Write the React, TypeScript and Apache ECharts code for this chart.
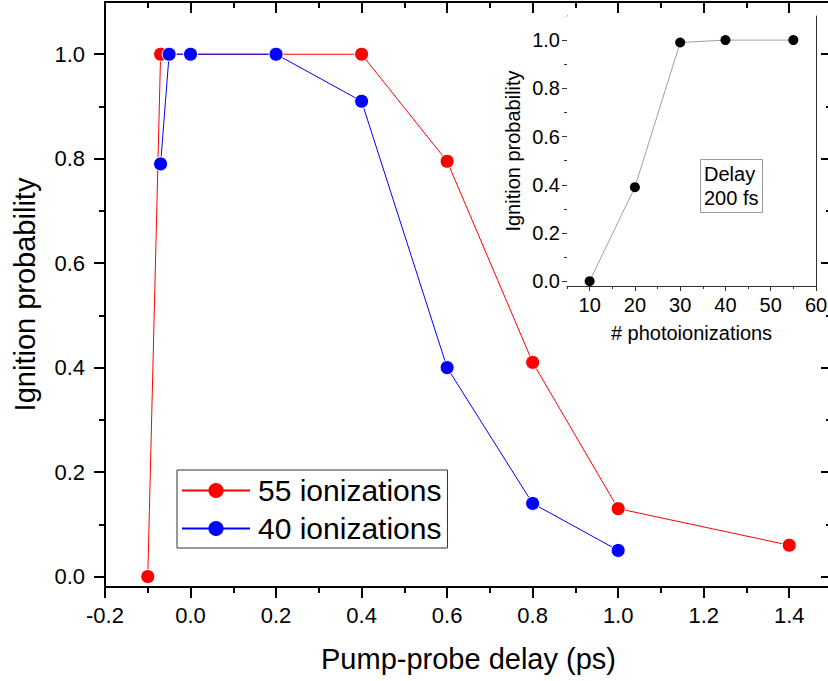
import React, { useEffect, useRef } from "react";
import * as echarts from "echarts";

const FONT = '"Liberation Sans", Arial, sans-serif';

// Main plot data
const series55Name = "55 ionizations";
const series55X = [-0.1, -0.07, 0.4, 0.6, 0.8, 1.0, 1.4];
const series55Y = [0.0, 1.0, 1.0, 0.795, 0.41, 0.13, 0.06];
const series40Name = "40 ionizations";
const series40X = [-0.07, -0.05, 0.0, 0.2, 0.4, 0.6, 0.8, 1.0];
const series40Y = [0.79, 1.0, 1.0, 1.0, 0.91, 0.4, 0.14, 0.05];

// Inset data
const insetX = [10, 20, 30, 40, 55];
const insetY = [0.0, 0.39, 0.99, 1.0, 1.0];

// Ticks
const mainXMajor = [-0.2, 0.0, 0.2, 0.4, 0.6, 0.8, 1.0, 1.2, 1.4];
const mainXMinor = [-0.1, 0.1, 0.3, 0.5, 0.7, 0.9, 1.1, 1.3, 1.5];
const mainYMajor = [0.0, 0.2, 0.4, 0.6, 0.8, 1.0];
const mainYMinor = [0.1, 0.3, 0.5, 0.7, 0.9];
const insetXMajor = [10, 20, 30, 40, 50, 60];
const insetXMinor = [5, 15, 25, 35, 45, 55];
const insetYMajor = [0.0, 0.2, 0.4, 0.6, 0.8, 1.0];
const insetYMinor = [0.1, 0.3, 0.5, 0.7, 0.9];

const CHART_W = 840;
const CHART_H = 681;

type AxisCfg = {
  dim: "x" | "y";
  grid: number;
  min: number;
  max: number;
  majors: number[];
  minors: number[];
  majorLen: number;
  minorLen: number;
  lineWidth: number;
  color: string;
  labelSize: number;
  labelMargin: number;
  labelFmt: (v: number) => string;
  name: string;
  nameGap: number;
  nameSize: number;
};

function buildAxes(c: AxisCfg) {
  const pos1 = c.dim === "x" ? "bottom" : "left";
  const pos2 = c.dim === "x" ? "top" : "right";
  const base = (position: string) => ({
    type: "value",
    gridIndex: c.grid,
    min: c.min,
    max: c.max,
    position,
    splitLine: { show: false },
  });
  const line = (show: boolean) => ({
    show,
    onZero: false,
    lineStyle: { color: c.color, width: c.lineWidth },
  });
  const tick = (vals: number[], len: number, inside: boolean) => ({
    show: true,
    inside,
    length: len,
    customValues: vals,
    lineStyle: { color: c.color, width: c.lineWidth },
  });
  return [
    {
      ...base(pos1),
      axisLine: line(true),
      axisTick: tick(c.majors, c.majorLen, false),
      axisLabel: {
        show: true,
        customValues: c.majors,
        margin: c.labelMargin,
        fontSize: c.labelSize,
        fontFamily: FONT,
        color: "#000",
        formatter: (v: number) => c.labelFmt(v),
      },
      name: c.name,
      nameLocation: "middle",
      nameGap: c.nameGap,
      nameTextStyle: { fontSize: c.nameSize, fontFamily: FONT, color: "#000" },
    },
    {
      ...base(pos1),
      axisLine: line(false),
      axisTick: tick(c.minors, c.minorLen, false),
      axisLabel: { show: false },
    },
    {
      ...base(pos2),
      axisLine: line(true),
      axisTick: tick(c.majors, c.majorLen, true),
      axisLabel: { show: false },
    },
    {
      ...base(pos2),
      axisLine: line(false),
      axisTick: tick(c.minors, c.minorLen, true),
      axisLabel: { show: false },
    },
  ];
}

export default function App() {
  const ref = useRef<HTMLDivElement>(null);

  useEffect(() => {
    if (!ref.current) return;
    document.body.style.overflow = "hidden";
    const chart = echarts.init(ref.current, undefined, { renderer: "svg" });

    const xAxes = [
      ...buildAxes({
        dim: "x", grid: 0, min: -0.2, max: 1.5,
        majors: mainXMajor, minors: mainXMinor,
        majorLen: 11, minorLen: 6, lineWidth: 2, color: "#000",
        labelSize: 22, labelMargin: 17, labelFmt: (v) => v.toFixed(1),
        name: "Pump-probe delay (ps)", nameGap: 57, nameSize: 29,
      }),
      ...buildAxes({
        dim: "x", grid: 1, min: 5, max: 60,
        majors: insetXMajor, minors: insetXMinor,
        majorLen: 5, minorLen: 3, lineWidth: 1, color: "#333",
        labelSize: 20, labelMargin: 9, labelFmt: (v) => String(Math.round(v)),
        name: "# photoionizations", nameGap: 37, nameSize: 20,
      }),
    ];
    const yAxes = [
      ...buildAxes({
        dim: "y", grid: 0, min: -0.02, max: 1.1,
        majors: mainYMajor, minors: mainYMinor,
        majorLen: 11, minorLen: 6, lineWidth: 2, color: "#000",
        labelSize: 22, labelMargin: 20, labelFmt: (v) => v.toFixed(1),
        name: "Ignition probability", nameGap: 66, nameSize: 29,
      }),
      ...buildAxes({
        dim: "y", grid: 1, min: -0.02, max: 1.1,
        majors: insetYMajor, minors: insetYMinor,
        majorLen: 5, minorLen: 3, lineWidth: 1, color: "#333",
        labelSize: 20, labelMargin: 7, labelFmt: (v) => v.toFixed(1),
        name: "Ignition probability", nameGap: 44, nameSize: 20,
      }),
    ];

    const option: any = {
      animation: false,
      backgroundColor: "#fff",
      textStyle: { fontFamily: FONT },
      title: {
        text: "Delay\n200 fs",
        left: 700,
        top: 159,
        padding: [3, 4, 3, 4],
        borderColor: "#999",
        borderWidth: 1,
        textStyle: {
          fontSize: 20,
          fontWeight: "normal",
          fontFamily: FONT,
          color: "#000",
          lineHeight: 24,
        },
      },
      grid: [
        { left: 105, top: 2, width: 727, bottom: 94 },
        {
          left: 567, top: 16, width: 249, height: 270,
          show: true, backgroundColor: "#fff", borderWidth: 0, z: 5,
        },
      ],
      legend: {
        orient: "vertical",
        left: 177,
        top: 470,
        data: [series55Name, series40Name],
        itemWidth: 68,
        itemHeight: 19,
        itemGap: 1,
        padding: [2, 6, 1, 4],
        borderColor: "#333",
        borderWidth: 1,
        backgroundColor: "#fff",
        itemStyle: { borderWidth: 0 },
        textStyle: {
          fontSize: 30,
          fontFamily: FONT,
          color: "#000",
          lineHeight: 37,
          padding: [0, 0, 0, 3],
        },
      },
      xAxis: xAxes,
      yAxis: yAxes,
      series: [
        {
          name: series55Name,
          type: "line",
          xAxisIndex: 0,
          yAxisIndex: 0,
          data: series55X.map((x, i) => [x, series55Y[i]]),
          symbol: "circle",
          symbolSize: 14,
          lineStyle: { color: "#ff0000", width: 1 },
          itemStyle: { color: "#ff0000", borderColor: "#fff", borderWidth: 1 },
          z: 2,
        },
        {
          name: series40Name,
          type: "line",
          xAxisIndex: 0,
          yAxisIndex: 0,
          data: series40X.map((x, i) => [x, series40Y[i]]),
          symbol: "circle",
          symbolSize: 14,
          lineStyle: { color: "#0000ff", width: 1 },
          itemStyle: { color: "#0000ff", borderColor: "#fff", borderWidth: 1 },
          z: 3,
        },
        {
          name: "Delay 200 fs",
          type: "line",
          xAxisIndex: 4,
          yAxisIndex: 4,
          data: insetX.map((x, i) => [x, insetY[i]]),
          symbol: "circle",
          symbolSize: 10,
          lineStyle: { color: "#a0a0a0", width: 1 },
          itemStyle: { color: "#000" },
          z: 6,
        },
      ],
    };

    chart.setOption(option);
    return () => chart.dispose();
  }, []);

  return (
    <div
      ref={ref}
      style={{ position: "fixed", left: 0, top: 0, width: CHART_W, height: CHART_H }}
    />
  );
}
